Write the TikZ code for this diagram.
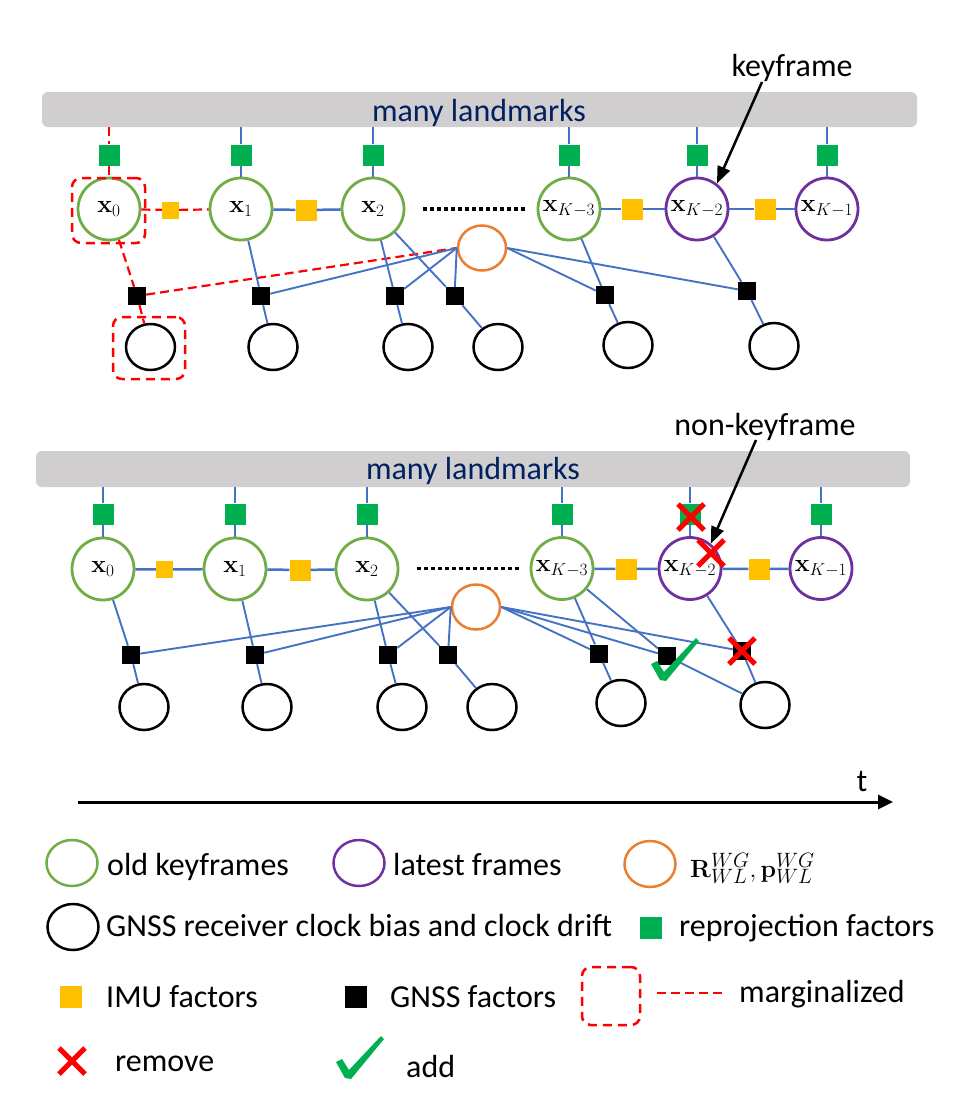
\documentclass[tikz,border=0pt]{standalone}
\usepackage[no-math]{fontspec}
\setmainfont{Carlito}
\usetikzlibrary{arrows.meta,shapes.geometric}
\definecolor{blueL}{HTML}{4472C4}
\definecolor{greenC}{HTML}{70AD47}
\definecolor{purpleC}{HTML}{7030A0}
\definecolor{orangeC}{HTML}{ED7D31}
\definecolor{greenF}{HTML}{00B050}
\definecolor{yellowF}{HTML}{FFC000}
\definecolor{barG}{HTML}{D0CECE}
\definecolor{navy}{HTML}{002060}
\tikzset{
 lbl/.style={font=\fontsize{32}{36}\selectfont, inner sep=0},
 varnode/.style={circle, draw, line width=2.8pt, minimum size=62pt, inner sep=0, fill=white, font=\fontsize{27}{30}\selectfont},
 oldkf/.style={varnode, draw=greenC},
 latest/.style={varnode, draw=purpleC},
 trans/.style={ellipse, draw=orangeC, line width=2.5pt, minimum width=48pt, minimum height=45pt, inner sep=0, fill=white},
 clk/.style={ellipse, draw=black, line width=2.5pt, minimum width=49pt, minimum height=46pt, inner sep=0},
 legell/.style={ellipse, line width=2.5pt, minimum width=51pt, minimum height=46pt, inner sep=0},
 reproj/.style={rectangle, fill=greenF, minimum size=21pt, inner sep=0},
 imu/.style={rectangle, fill=yellowF, minimum size=21pt, inner sep=0},
 imus/.style={imu, minimum size=17pt},
 gnss/.style={rectangle, fill=black, minimum size=18pt, inner sep=0},
 lmbar/.style={rectangle, rounded corners=6pt, fill=barG, minimum width=875pt, minimum height=35pt, inner sep=0},
 conn/.style={draw=blueL, line width=1.9pt},
 connv/.style={draw=blueL, line width=2.5pt},
 marg/.style={draw=red, line width=2.2pt, dash pattern=on 9pt off 5pt},
 margbox/.style={rectangle, rounded corners=9pt, draw=red, line width=2.5pt, dash pattern=on 9pt off 6pt, inner sep=0},
 pointer/.style={line width=2.5pt, -{Triangle[length=17pt,width=13pt]}},
 dotline/.style={line width=3.5pt, dash pattern=on 3.5pt off 3.5pt},
 redcross/.pic={\draw[red, line width=5pt] (-13,-13) -- (13,13) (-13,13) -- (13,-13);},
 chkmark/.pic={\fill[greenF] (-12,-16) -- (-6,-19) -- (1,-8) -- (33,-42) -- (36,-39) -- (3,1) -- (-3,0) -- cycle;},
}
\begin{document}
\begin{tikzpicture}[x=1pt,y=-1pt]
\useasboundingbox (0,0) rectangle (953,1106);

% ================= TOP GRAPH =================
\node[lmbar] (bar1) at (479.5,109.5) {};
\node[lbl, text=navy, anchor=base] (lm1) at (479,121) {many landmarks};
\node[lbl, anchor=base] (kf) at (792,76) {keyframe};

\node[oldkf] (a0) at (109,209) {$\mathbf{x}_0$};
\node[oldkf] (a1) at (241,209) {$\mathbf{x}_1$};
\node[oldkf] (a2) at (373,209) {$\mathbf{x}_2$};
\node[oldkf] (a3) at (569,209) {$\mathbf{x}_{K-3}$};
\node[latest] (a4) at (697,209) {$\mathbf{x}_{K-2}$};
\node[latest] (a5) at (827,209) {$\mathbf{x}_{K-1}$};

\node[reproj] (ga0) at (109,155) {};
\node[reproj] (ga1) at (241,155) {};
\node[reproj] (ga2) at (373,155) {};
\node[reproj] (ga3) at (569,155) {};
\node[reproj] (ga4) at (697,155) {};
\node[reproj] (ga5) at (827,155) {};

\node[imus] (ia01) at (170.5,210) {};
\node[imu] (ia12) at (306,210) {};
\node[imu] (ia34) at (632,209) {};
\node[imu] (ia45) at (765,209) {};

\node[trans] (oa) at (482,248) {};

\node[gnss] (ba0) at (137,296) {};
\node[gnss] (ba1) at (261,296) {};
\node[gnss] (ba2) at (395,296) {};
\node[gnss] (ba3) at (454.5,296) {};
\node[gnss] (ba4) at (605,295) {};
\node[gnss] (ba5) at (747,291) {};

\node[clk] (ca0) at (150.5,347) {};
\node[clk] (ca1) at (273,347) {};
\node[clk] (ca2) at (408,347) {};
\node[clk] (ca3) at (498,347) {};
\node[clk] (ca4) at (628,345) {};
\node[clk] (ca5) at (774,346) {};

\node[margbox, minimum width=73pt, minimum height=65pt] (ma0) at (108.5,210.5) {};
\node[margbox, minimum width=72pt, minimum height=62pt] (mc0) at (149,348) {};

\coordinate (da1) at (423,209);
\coordinate (da2) at (528,209);
\draw[dotline] (da1) -- (da2);

% marginalized connectors
\draw[marg] (ga0 |- bar1.south) -- (ga0);
\draw[marg] (ga0) -- (a0);
\draw[marg] (a0) -- (ia01) -- (a1);
\draw[marg] (a0) -- (ba0) -- (ca0);
\draw[marg] (ba0) -- (oa.west);

% kept connectors
\foreach \i in {1,...,5} {\draw[connv] (ga\i |- bar1.south) -- (ga\i) -- (a\i);}
\draw[connv] (a1) -- (ia12) -- (a2);
\draw[connv] (a3) -- (ia34) -- (a4) -- (ia45) -- (a5);
\draw[conn] (a1) -- (ba1) -- (ca1);
\draw[conn] (ba1) -- (oa.west);
\draw[conn] (a2) -- (ba2) -- (ca2);
\draw[conn] (ba2) -- (oa.west);
\draw[conn] (a2) -- (ba3) -- (ca3);
\draw[conn] (ba3) -- (oa.west);
\draw[conn] (a3) -- (ba4) -- (ca4);
\draw[conn] (oa.east) -- (ba4);
\draw[conn] (a4) -- (ba5) -- (ca5);
\draw[conn] (oa.east) -- (ba5);

\coordinate (kfs) at (762,82);
\draw[pointer] (kfs) -- (a4.52);

% ================= BOTTOM GRAPH =================
\node[lmbar, minimum width=874pt, minimum height=36pt] (bar2) at (473,469) {};
\node[lbl, text=navy, anchor=base] (lm2) at (473,479) {many landmarks};
\node[lbl, anchor=base] (nkf) at (765,435) {non-keyframe};

\node[oldkf] (n0) at (103,569) {$\mathbf{x}_0$};
\node[oldkf] (n1) at (235,569) {$\mathbf{x}_1$};
\node[oldkf] (n2) at (367,569) {$\mathbf{x}_2$};
\node[oldkf] (n3) at (562,568.5) {$\mathbf{x}_{K-3}$};
\node[latest] (n4) at (690,568.5) {$\mathbf{x}_{K-2}$};
\node[latest] (n5) at (821,568.5) {$\mathbf{x}_{K-1}$};

\node[reproj] (gb0) at (103,514) {};
\node[reproj] (gb1) at (235,514) {};
\node[reproj] (gb2) at (367,514) {};
\node[reproj] (gb3) at (562,514) {};
\node[reproj] (gb4) at (690,514) {};
\node[reproj] (gb5) at (821,514) {};

\node[imus] (ib01) at (164.5,569.5) {};
\node[imu] (ib12) at (300,570) {};
\node[imu] (ib34) at (626,569) {};
\node[imu] (ib45) at (759,569) {};

\node[trans] (ob) at (476,607) {};

\node[gnss] (bb0) at (131,655) {};
\node[gnss] (bb1) at (255,655) {};
\node[gnss] (bb2) at (388,655) {};
\node[gnss] (bb3) at (448,655) {};
\node[gnss] (bb4) at (599,653.5) {};
\node[gnss] (bb5) at (667,656) {};
\node[gnss] (bb6) at (742,651) {};

\node[clk] (cb0) at (144,707) {};
\node[clk] (cb1) at (267,707) {};
\node[clk] (cb2) at (402,707) {};
\node[clk] (cb3) at (492,707) {};
\node[clk] (cb4) at (621,703) {};
\node[clk] (cb5) at (765,705) {};

\coordinate (db1) at (417,568.5);
\coordinate (db2) at (520,568.5);
\draw[dotline] (db1) -- (db2);

\foreach \i in {0,...,5} {\draw[connv] (gb\i |- bar2.south) -- (gb\i) -- (n\i);}
\draw[connv] (n0) -- (ib01) -- (n1) -- (ib12) -- (n2);
\draw[connv] (n3) -- (ib34) -- (n4) -- (ib45) -- (n5);
\draw[conn] (n0) -- (bb0) -- (cb0);
\draw[conn] (bb0) -- (ob.west);
\draw[conn] (n1) -- (bb1) -- (cb1);
\draw[conn] (bb1) -- (ob.west);
\draw[conn] (n2) -- (bb2) -- (cb2);
\draw[conn] (bb2) -- (ob.west);
\draw[conn] (n2) -- (bb3) -- (cb3);
\draw[conn] (bb3) -- (ob.west);
\draw[conn] (n3) -- (bb4) -- (cb4);
\draw[conn] (ob.east) -- (bb4);
\draw[conn] (n3) -- (bb5) -- (cb5);
\draw[conn] (ob.east) -- (bb5);
\draw[conn] (n4) -- (bb6) -- (cb5);
\draw[conn] (ob.east) -- (bb6);

\coordinate (nkfs) at (756,440);
\draw[pointer] (nkfs) -- (n4.50);

\pic at (691,517) {redcross};
\pic at (711,553) {redcross};
\pic at (742,651) {redcross};
\pic at (663,680) {chkmark};

% ================= TIME AXIS =================
\coordinate (ta) at (78,802);
\coordinate (tb) at (893,802);
\draw[line width=3pt, -{Triangle[length=15pt,width=14pt]}] (ta) -- (tb);
\node[lbl, anchor=base] (tl) at (862,791) {t};

% ================= LEGEND =================
\node[legell, draw=greenC] (lg1) at (72,863) {};
\node[lbl, anchor=base west] (lt1) at (107,875) {old keyframes};
\node[legell, draw=purpleC] (lg2) at (359,863) {};
\node[lbl, anchor=base west] (lt2) at (393,875) {latest frames};
\node[legell, draw=orangeC] (lg3) at (650,864) {};
\node[anchor=base west, inner sep=0, font=\fontsize{30}{34}\selectfont] (lt3) at (690,877) {$\mathbf{R}^{WG}_{WL},\mathbf{p}^{WG}_{WL}$};

\node[legell, draw=black] (lg4) at (73,927) {};
\node[lbl, anchor=base west] (lt4) at (106,936) {GNSS receiver clock bias and clock drift};
\node[reproj, minimum size=22pt] (lg5) at (651,928) {};
\node[lbl, anchor=base west] (lt5) at (679,936) {reprojection factors};

\node[imu, minimum size=22pt] (lg6) at (71,997) {};
\node[lbl, anchor=base west] (lt6) at (106,1007) {IMU factors};
\node[gnss, minimum size=22pt] (lg7) at (356,997) {};
\node[lbl, anchor=base west] (lt7) at (390,1007) {GNSS factors};
\node[margbox, minimum width=58pt, minimum height=58pt] (lg8) at (611,996) {};
\coordinate (mla) at (657,993);
\coordinate (mlb) at (722,993);
\draw[marg] (mla) -- (mlb);
\node[lbl, anchor=base west] (lt8) at (739,1002) {marginalized};

\pic at (72,1061) {redcross};
\node[lbl, anchor=base west] (lt9) at (115,1071) {remove};
\pic at (348,1078) {chkmark};
\node[lbl, anchor=base west] (lt10) at (406,1077) {add};
\end{tikzpicture}
\end{document}
